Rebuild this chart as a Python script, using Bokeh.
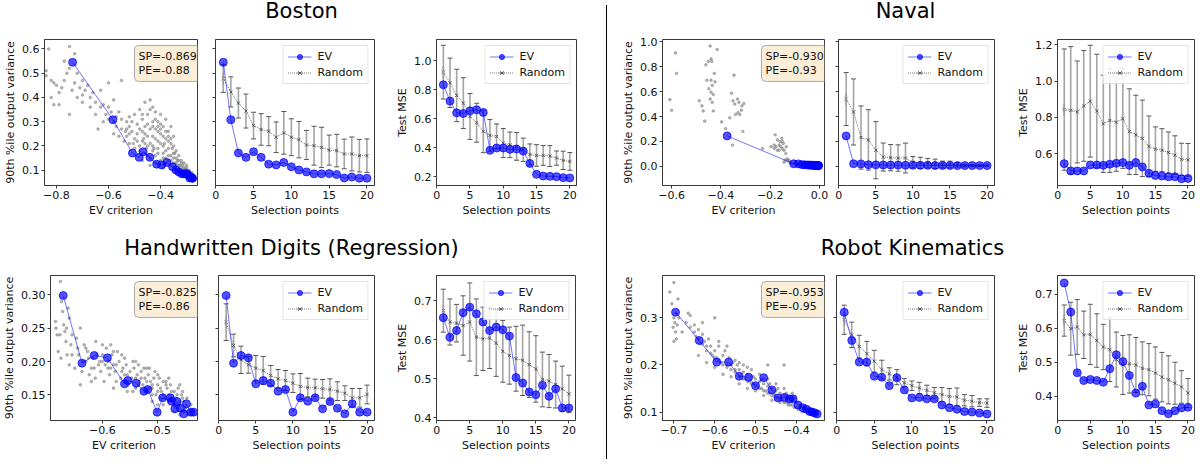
import numpy as np
from bokeh.plotting import figure
from bokeh.models import (Range1d, FixedTicker, CustomJSTickFormatter, ColumnDataSource,
                          Whisker, TeeHead, Legend, LegendItem, Label, Div, CDSView, IndexFilter)
from bokeh.layouts import row, column
from bokeh.embed import file_html
from bokeh.resources import INLINE

# ---------------------------------------------------------------- data
selection_points = list(range(1, 21))

# ---- Boston
boston_cloud_x = [-0.83, -0.75, -0.84, -0.84, -0.81, -0.80, -0.78, -0.82, -0.81, -0.79,
                  -0.77, -0.76, -0.75, -0.73, -0.72, -0.70, -0.69, -0.74, -0.72, -0.75,
                  -0.70, -0.68, -0.66, -0.65, -0.63, -0.62, -0.60, -0.58, -0.56, -0.55,
                  -0.60, -0.62, -0.58, -0.57, -0.55, -0.53, -0.52, -0.50, -0.48, -0.46,
                  -0.44, -0.43, -0.42, -0.41, -0.40, -0.38, -0.37, -0.36, -0.35, -0.52,
                  -0.50, -0.48, -0.47, -0.46, -0.45, -0.44, -0.43, -0.42, -0.41, -0.40,
                  -0.39, -0.38, -0.37, -0.36, -0.35, -0.50, -0.48, -0.46, -0.45, -0.44,
                  -0.43, -0.42, -0.41, -0.40, -0.39, -0.38, -0.37, -0.36, -0.35, -0.34,
                  -0.33, -0.32, -0.31, -0.30, -0.29, -0.28, -0.27, -0.33, -0.31, -0.34,
                  -0.30, -0.65, -0.64, -0.67, -0.70, -0.77, -0.60, -0.54, -0.52, -0.56,
                  -0.47, -0.45, -0.43, -0.41, -0.39, -0.37, -0.35, -0.34, -0.33, -0.32,
                  -0.31, -0.30, -0.29, -0.28, -0.49, -0.51, -0.53, -0.45, -0.40, -0.38,
                  -0.36, -0.34, -0.32, -0.29, -0.27, -0.44, -0.42, -0.39, -0.47, -0.58,
                  -0.49, -0.47, -0.46, -0.44, -0.43, -0.42, -0.41, -0.40, -0.39, -0.38,
                  -0.37, -0.36, -0.355, -0.345, -0.335, -0.325, -0.315, -0.305, -0.295, -0.285,
                  -0.275, -0.265, -0.48, -0.46, -0.45, -0.43, -0.41, -0.39, -0.38, -0.37,
                  -0.36, -0.35, -0.34, -0.33, -0.32, -0.31, -0.55, -0.53, -0.51, -0.49,
                  -0.57, -0.59, -0.61, -0.63, -0.67, -0.71, -0.73, -0.79, -0.82, -0.52,
                  -0.47, -0.44, -0.42, -0.40, -0.385, -0.425, -0.455, -0.465, -0.505, -0.535]
boston_cloud_y = [0.60, 0.61, 0.51, 0.49, 0.46, 0.45, 0.44, 0.40, 0.37, 0.37,
                  0.47, 0.50, 0.52, 0.58, 0.50, 0.47, 0.43, 0.43, 0.40, 0.33,
                  0.38, 0.45, 0.42, 0.38, 0.43, 0.37, 0.36, 0.39, 0.34, 0.47,
                  0.31, 0.30, 0.30, 0.28, 0.31, 0.30, 0.28, 0.33, 0.35, 0.38,
                  0.39, 0.36, 0.31, 0.30, 0.33, 0.31, 0.26, 0.28, 0.24, 0.25,
                  0.23, 0.27, 0.22, 0.25, 0.29, 0.21, 0.24, 0.27, 0.22, 0.25,
                  0.20, 0.23, 0.19, 0.21, 0.17, 0.19, 0.20, 0.17, 0.20, 0.15,
                  0.18, 0.16, 0.19, 0.14, 0.17, 0.15, 0.14, 0.16, 0.13, 0.15,
                  0.12, 0.13, 0.11, 0.10, 0.09, 0.08, 0.07, 0.10, 0.09, 0.12,
                  0.12, 0.33, 0.27, 0.36, 0.41, 0.55, 0.46, 0.22, 0.21, 0.24,
                  0.31, 0.33, 0.28, 0.26, 0.28, 0.22, 0.20, 0.18, 0.16, 0.14,
                  0.13, 0.11, 0.10, 0.09, 0.29, 0.26, 0.27, 0.24, 0.21, 0.18,
                  0.12, 0.10, 0.09, 0.075, 0.06, 0.12, 0.13, 0.11, 0.14, 0.25,
                  0.25, 0.26, 0.28, 0.27, 0.30, 0.23, 0.28, 0.27, 0.24, 0.26,
                  0.24, 0.23, 0.19, 0.17, 0.14, 0.12, 0.12, 0.105, 0.095, 0.085,
                  0.075, 0.065, 0.18, 0.21, 0.16, 0.20, 0.17, 0.15, 0.13, 0.16,
                  0.14, 0.15, 0.13, 0.14, 0.11, 0.10, 0.27, 0.24, 0.30, 0.22,
                  0.32, 0.34, 0.33, 0.36, 0.40, 0.44, 0.46, 0.42, 0.47, 0.32,
                  0.33, 0.35, 0.34, 0.29, 0.21, 0.19, 0.19, 0.23, 0.21, 0.26]
boston_ev_crit = [-0.738, -0.583, -0.508, -0.482, -0.467, -0.441, -0.415, -0.396, -0.376, -0.354,
                  -0.341, -0.330, -0.318, -0.311, -0.300, -0.296, -0.288, -0.283, -0.279, -0.277]
boston_ev_var = [0.545, 0.308, 0.171, 0.153, 0.176, 0.153, 0.125, 0.122, 0.132, 0.114,
                 0.101, 0.093, 0.085, 0.085, 0.086, 0.082, 0.068, 0.072, 0.067, 0.067]
boston_rand_var = [0.478, 0.423, 0.377, 0.344, 0.284, 0.268, 0.261, 0.236, 0.254, 0.236,
                   0.226, 0.204, 0.201, 0.194, 0.183, 0.181, 0.167, 0.167, 0.160, 0.160]
boston_rand_var_err = [0.057, 0.062, 0.062, 0.070, 0.055, 0.065, 0.060, 0.063, 0.088, 0.076,
                       0.075, 0.060, 0.080, 0.083, 0.062, 0.067, 0.061, 0.070, 0.067, 0.069]
boston_ev_mse = [0.833, 0.721, 0.640, 0.636, 0.654, 0.661, 0.643, 0.382, 0.398, 0.398,
                 0.389, 0.391, 0.377, 0.292, 0.217, 0.205, 0.203, 0.201, 0.194, 0.192]
boston_rand_mse = [0.920, 0.847, 0.760, 0.707, 0.615, 0.572, 0.512, 0.485, 0.478, 0.432,
                   0.420, 0.409, 0.386, 0.354, 0.347, 0.347, 0.343, 0.329, 0.313, 0.306]
boston_rand_mse_err = [0.185, 0.170, 0.180, 0.175, 0.158, 0.134, 0.146, 0.109, 0.086, 0.100,
                       0.088, 0.095, 0.080, 0.072, 0.074, 0.068, 0.072, 0.049, 0.063, 0.061]

# ---- Naval
naval_cloud_x = [-0.584, -0.580, -0.607, -0.600, -0.488, -0.477, -0.472, -0.466, -0.461, -0.451,
                 -0.444, -0.440, -0.437, -0.457, -0.440, -0.435, -0.449, -0.440, -0.431, -0.424,
                 -0.444, -0.435, -0.431, -0.427, -0.415, -0.397, -0.381, -0.364, -0.357, -0.351,
                 -0.347, -0.344, -0.341, -0.333, -0.331, -0.327, -0.324, -0.317, -0.315, -0.311,
                 -0.307, -0.353, -0.231, -0.197, -0.184, -0.180, -0.171, -0.164, -0.160, -0.157,
                 -0.153, -0.151, -0.147, -0.144, -0.171, -0.184, -0.137, -0.131, -0.144, -0.124,
                 -0.117, -0.135, -0.177, -0.164, -0.151, -0.120, -0.110, -0.100, -0.090, -0.080,
                 -0.070, -0.060, -0.050, -0.040, -0.030, -0.020, -0.010, -0.130, -0.140]
naval_cloud_y = [0.912, 0.747, 0.536, 0.450, 0.527, 0.486, 0.445, 0.363, 0.816, 0.843,
                 0.967, 0.863, 0.843, 0.692, 0.692, 0.651, 0.624, 0.596, 0.577, 0.679,
                 0.541, 0.514, 0.445, 0.747, 0.939, 0.357, 0.302, 0.390, 0.588, 0.527,
                 0.733, 0.500, 0.417, 0.541, 0.431, 0.514, 0.417, 0.450, 0.486, 0.280,
                 0.505, 0.170, 0.143, 0.157, 0.170, 0.253, 0.212, 0.170, 0.198, 0.157,
                 0.225, 0.143, 0.184, 0.129, 0.129, 0.143, 0.102, 0.060, 0.033, 0.047,
                 0.027, 0.157, 0.157, 0.129, 0.198, 0.030, 0.020, 0.035, 0.015, 0.025,
                 0.010, 0.020, 0.008, 0.012, 0.005, 0.008, 0.003, 0.045, 0.050]
naval_ev_crit = [-0.375, -0.105, -0.085, -0.070, -0.060, -0.050, -0.043, -0.037, -0.032, -0.027,
                 -0.023, -0.020, -0.017, -0.014, -0.012, -0.010, -0.008, -0.006, -0.005, -0.004]
naval_ev_var = [0.244, 0.020, 0.019, 0.012, 0.011, 0.010, 0.009, 0.009, 0.008, 0.008,
                0.007, 0.007, 0.006, 0.006, 0.006, 0.005, 0.005, 0.005, 0.005, 0.005]
naval_rand_var = [0.541, 0.437, 0.231, 0.212, 0.129, 0.074, 0.069, 0.066, 0.066, 0.033,
                  0.027, 0.025, 0.019, 0.014, 0.014, 0.011, 0.005, 0.005, 0.005, 0.005]
naval_rand_var_err = [0.213, 0.266, 0.254, 0.243, 0.230, 0.113, 0.106, 0.106, 0.120, 0.045,
                      0.045, 0.038, 0.038, 0.027, 0.027, 0.018, 0.010, 0.008, 0.006, 0.006]
naval_ev_mse = [0.546, 0.506, 0.506, 0.506, 0.539, 0.539, 0.537, 0.543, 0.548, 0.552,
                0.537, 0.552, 0.528, 0.493, 0.481, 0.478, 0.474, 0.474, 0.463, 0.465]
naval_rand_mse = [0.843, 0.839, 0.830, 0.863, 0.889, 0.835, 0.765, 0.783, 0.774, 0.793,
                  0.722, 0.704, 0.685, 0.641, 0.626, 0.620, 0.607, 0.593, 0.570, 0.567]
naval_rand_mse_err = [0.333, 0.350, 0.280, 0.304, 0.307, 0.312, 0.267, 0.285, 0.270, 0.273,
                      0.235, 0.218, 0.210, 0.167, 0.122, 0.118, 0.113, 0.106, 0.088, 0.090]

# ---- Handwritten digits (regression)
hw_cloud_x = [-0.685, -0.684, -0.682, -0.680, -0.676, -0.674, -0.672, -0.670, -0.668, -0.666,
              -0.664, -0.662, -0.660, -0.657, -0.655, -0.650, -0.647, -0.643, -0.640, -0.637,
              -0.633, -0.630, -0.627, -0.624, -0.620, -0.617, -0.613, -0.610, -0.607, -0.603,
              -0.600, -0.597, -0.593, -0.590, -0.587, -0.583, -0.580, -0.577, -0.573, -0.570,
              -0.567, -0.563, -0.560, -0.557, -0.553, -0.550, -0.547, -0.543, -0.540, -0.537,
              -0.533, -0.530, -0.527, -0.523, -0.520, -0.517, -0.513, -0.510, -0.507, -0.503,
              -0.500, -0.497, -0.493, -0.490, -0.487, -0.483, -0.480, -0.477, -0.473, -0.470,
              -0.467, -0.463, -0.460, -0.457, -0.453, -0.450, -0.447, -0.443, -0.440, -0.585,
              -0.575, -0.565, -0.545, -0.535, -0.525, -0.515, -0.505, -0.495, -0.485, -0.475,
              -0.465, -0.455, -0.580, -0.590, -0.555, -0.510, -0.500, -0.490, -0.470, -0.460,
              -0.612, -0.600, -0.620, -0.640, -0.660, -0.675, -0.630,
              -0.540, -0.530, -0.520, -0.510, -0.500, -0.490, -0.480, -0.470, -0.460, -0.450,
              -0.445, -0.555, -0.565, -0.575, -0.585, -0.595, -0.605, -0.615, -0.625, -0.635,
              -0.645, -0.655, -0.665, -0.677, -0.520, -0.500, -0.480, -0.460, -0.540, -0.560,
              -0.580, -0.600, -0.510, -0.495, -0.475, -0.455, -0.535, -0.545, -0.515, -0.485]
hw_cloud_y = [0.260, 0.250, 0.240, 0.215, 0.320, 0.290, 0.275, 0.255, 0.245, 0.230,
              0.210, 0.280, 0.265, 0.225, 0.240, 0.190, 0.235, 0.210, 0.250, 0.185,
              0.225, 0.200, 0.215, 0.180, 0.190, 0.205, 0.175, 0.210, 0.195, 0.185,
              0.200, 0.170, 0.220, 0.190, 0.180, 0.210, 0.195, 0.185, 0.215, 0.200,
              0.175, 0.190, 0.180, 0.195, 0.165, 0.185, 0.175, 0.190, 0.160, 0.180,
              0.170, 0.185, 0.165, 0.175, 0.155, 0.180, 0.170, 0.160, 0.175, 0.150,
              0.165, 0.175, 0.155, 0.170, 0.145, 0.160, 0.150, 0.165, 0.140, 0.155,
              0.145, 0.160, 0.135, 0.150, 0.140, 0.130, 0.145, 0.125, 0.135, 0.225,
              0.170, 0.210, 0.200, 0.195, 0.190, 0.190, 0.185, 0.160, 0.170, 0.145,
              0.150, 0.155, 0.160, 0.200, 0.155, 0.140, 0.135, 0.135, 0.125, 0.120,
              0.230, 0.225, 0.170, 0.165, 0.195, 0.205, 0.220,
              0.175, 0.175, 0.170, 0.165, 0.155, 0.150, 0.140, 0.135, 0.140, 0.125,
              0.120, 0.180, 0.185, 0.195, 0.190, 0.195, 0.200, 0.190, 0.205, 0.200,
              0.220, 0.210, 0.250, 0.240, 0.190, 0.180, 0.175, 0.165, 0.200, 0.205,
              0.215, 0.210, 0.150, 0.145, 0.155, 0.145, 0.165, 0.155, 0.160, 0.165]
hw_ev_crit = [-0.671, -0.637, -0.615, -0.591, -0.560, -0.554, -0.539, -0.525, -0.518, -0.501,
              -0.491, -0.475, -0.477, -0.469, -0.465, -0.459, -0.453, -0.448, -0.440, -0.435]
hw_ev_var = [0.299, 0.1975, 0.209, 0.2055, 0.1665, 0.1715, 0.1675, 0.1555, 0.158, 0.124,
             0.1455, 0.1405, 0.1455, 0.129, 0.140, 0.130, 0.1215, 0.1365, 0.124, 0.124]
hw_rand_var = [0.259, 0.224, 0.2025, 0.195, 0.190, 0.1865, 0.179, 0.174, 0.1715, 0.1675,
               0.1625, 0.161, 0.1605, 0.159, 0.158, 0.1555, 0.1525, 0.1455, 0.1455, 0.1505]
hw_rand_var_err = [0.0275, 0.017, 0.0205, 0.0125, 0.019, 0.021, 0.015, 0.014, 0.015, 0.014,
                   0.0195, 0.014, 0.013, 0.014, 0.016, 0.014, 0.011, 0.014, 0.014, 0.014]
hw_ev_mse = [0.656, 0.606, 0.623, 0.669, 0.683, 0.666, 0.645, 0.623, 0.632, 0.625,
             0.609, 0.503, 0.489, 0.466, 0.459, 0.483, 0.455, 0.474, 0.425, 0.425]
hw_rand_mse = [0.674, 0.645, 0.642, 0.636, 0.645, 0.606, 0.602, 0.604, 0.591, 0.570,
               0.559, 0.551, 0.547, 0.536, 0.525, 0.498, 0.494, 0.485, 0.474, 0.461]
hw_rand_mse_err = [0.055, 0.059, 0.048, 0.076, 0.100, 0.098, 0.081, 0.078, 0.085, 0.079,
                   0.073, 0.083, 0.090, 0.084, 0.085, 0.070, 0.068, 0.060, 0.058, 0.048]

# ---- Robot kinematics
robot_cloud_x = [-0.710, -0.700, -0.700, -0.698, -0.702, -0.696, -0.694, -0.700, -0.692, -0.690,
                 -0.688, -0.680, -0.665, -0.660, -0.650, -0.645, -0.640, -0.635, -0.630, -0.625,
                 -0.620, -0.615, -0.610, -0.605, -0.600, -0.600, -0.595, -0.590, -0.585, -0.580,
                 -0.575, -0.570, -0.565, -0.560, -0.555, -0.550, -0.545, -0.540, -0.535, -0.530,
                 -0.525, -0.520, -0.515, -0.510, -0.505, -0.500, -0.495, -0.490, -0.485, -0.480,
                 -0.475, -0.470, -0.465, -0.460, -0.455, -0.450, -0.445, -0.440, -0.435, -0.430,
                 -0.425, -0.420, -0.415, -0.410, -0.405, -0.400, -0.395, -0.390, -0.385, -0.380,
                 -0.375, -0.370, -0.365, -0.360, -0.355, -0.350, -0.580, -0.560, -0.540, -0.520,
                 -0.500, -0.480, -0.460, -0.440, -0.420, -0.620, -0.600, -0.590, -0.570, -0.550,
                 -0.530, -0.510, -0.490, -0.470, -0.450, -0.430, -0.410, -0.470, -0.640, -0.660,
                 -0.670, -0.630,
                 -0.650, -0.640, -0.630, -0.620, -0.610, -0.600, -0.590, -0.580, -0.570, -0.560,
                 -0.550, -0.540, -0.530, -0.520, -0.510, -0.500, -0.490, -0.480, -0.470, -0.460,
                 -0.450, -0.440, -0.430, -0.420, -0.410, -0.400, -0.390, -0.380, -0.370, -0.360,
                 -0.505, -0.485, -0.465, -0.445, -0.425, -0.405, -0.540, -0.520, -0.695, -0.705,
                 -0.430]
robot_cloud_y = [0.355, 0.375, 0.300, 0.290, 0.280, 0.270, 0.255, 0.250, 0.285, 0.340,
                 0.300, 0.270, 0.310, 0.305, 0.285, 0.260, 0.275, 0.245, 0.265, 0.250,
                 0.230, 0.255, 0.240, 0.220, 0.300, 0.230, 0.215, 0.240, 0.205, 0.220,
                 0.230, 0.200, 0.215, 0.190, 0.205, 0.185, 0.200, 0.190, 0.175, 0.185,
                 0.170, 0.180, 0.165, 0.175, 0.160, 0.170, 0.155, 0.165, 0.150, 0.160,
                 0.145, 0.155, 0.140, 0.150, 0.135, 0.145, 0.130, 0.140, 0.125, 0.135,
                 0.120, 0.130, 0.115, 0.125, 0.110, 0.120, 0.105, 0.115, 0.100, 0.110,
                 0.100, 0.105, 0.098, 0.100, 0.095, 0.097, 0.180, 0.175, 0.160, 0.150,
                 0.145, 0.135, 0.125, 0.120, 0.115, 0.205, 0.195, 0.250, 0.240, 0.210,
                 0.200, 0.190, 0.180, 0.170, 0.160, 0.150, 0.140, 0.200, 0.220, 0.280,
                 0.290, 0.290,
                 0.270, 0.255, 0.245, 0.240, 0.225, 0.215, 0.210, 0.200, 0.195, 0.200,
                 0.190, 0.175, 0.170, 0.165, 0.160, 0.155, 0.150, 0.145, 0.140, 0.135,
                 0.130, 0.125, 0.120, 0.120, 0.115, 0.110, 0.110, 0.105, 0.100, 0.097,
                 0.175, 0.170, 0.160, 0.150, 0.140, 0.130, 0.205, 0.195, 0.310, 0.330,
                 0.200]
robot_ev_crit = [-0.696, -0.638, -0.595, -0.566, -0.540, -0.517, -0.500, -0.480, -0.460, -0.445,
                 -0.429, -0.417, -0.408, -0.396, -0.384, -0.375, -0.367, -0.361, -0.355, -0.349]
robot_ev_var = [0.312, 0.252, 0.206, 0.206, 0.176, 0.174, 0.156, 0.173, 0.147, 0.130,
                0.131, 0.128, 0.128, 0.115, 0.109, 0.106, 0.101, 0.100, 0.098, 0.096]
robot_rand_var = [0.296, 0.264, 0.239, 0.224, 0.208, 0.190, 0.181, 0.174, 0.162, 0.156,
                  0.151, 0.146, 0.141, 0.137, 0.133, 0.132, 0.125, 0.123, 0.120, 0.119]
robot_rand_var_err = [0.031, 0.027, 0.024, 0.026, 0.023, 0.020, 0.013, 0.016, 0.009, 0.010,
                      0.012, 0.011, 0.011, 0.015, 0.017, 0.019, 0.012, 0.012, 0.008, 0.009]
robot_ev_mse = [0.734, 0.648, 0.469, 0.446, 0.449, 0.446, 0.441, 0.481, 0.522, 0.502,
                0.461, 0.409, 0.429, 0.374, 0.377, 0.357, 0.348, 0.357, 0.365, 0.367]
robot_rand_mse = [0.623, 0.599, 0.604, 0.581, 0.582, 0.564, 0.545, 0.537, 0.508, 0.492,
                  0.495, 0.492, 0.482, 0.478, 0.468, 0.456, 0.448, 0.438, 0.427, 0.409]
robot_rand_mse_err = [0.046, 0.078, 0.081, 0.070, 0.089, 0.079, 0.067, 0.094, 0.081, 0.087,
                      0.086, 0.081, 0.078, 0.077, 0.077, 0.073, 0.071, 0.062, 0.048, 0.043]

titles = ["Boston", "Naval", "Handwritten Digits (Regression)", "Robot Kinematics"]
corr_texts = ["SP=-0.869\nPE=-0.88", "SP=-0.930\nPE=-0.93",
              "SP=-0.825\nPE=-0.86", "SP=-0.953\nPE=-0.95"]
sel_ticks = [0, 5, 10, 15, 20]

# ---------------------------------------------------------------- styling helpers
FONT = "DejaVu Sans"
AXC = "#3a3a3a"
BLUE = "#0000ff"


def fmt(nd):
    return CustomJSTickFormatter(code="return tick.toFixed(%d).replace('-', '\\u2212');" % nd)


def base_panel(w, h, bl, br, bt, bb, xr, yr, xt, yt, xnd, ynd, xlabel, ylabel, ylabels=True):
    p = figure(width=w, height=h, x_range=Range1d(*xr), y_range=Range1d(*yr),
               output_backend="svg", toolbar_location=None,
               min_border_left=bl, min_border_right=br, min_border_top=bt, min_border_bottom=bb)
    p.grid.visible = False
    p.outline_line_color = AXC
    p.outline_line_width = 1
    p.axis.major_tick_out = 3
    p.axis.major_tick_in = 0
    p.axis.minor_tick_out = 0
    p.axis.minor_tick_in = 0
    p.axis.axis_line_color = AXC
    p.axis.major_tick_line_color = AXC
    p.axis.major_label_text_font = FONT
    p.axis.major_label_text_font_size = "11px"
    p.axis.major_label_text_color = "#111111"
    p.axis.major_label_standoff = 2
    p.axis.axis_label_text_font = FONT
    p.axis.axis_label_text_font_size = "11px"
    p.axis.axis_label_text_font_style = "normal"
    p.axis.axis_label_text_color = "#111111"
    p.axis.axis_label_standoff = 2
    p.xaxis.ticker = FixedTicker(ticks=xt)
    p.yaxis.ticker = FixedTicker(ticks=yt)
    p.xaxis.formatter = fmt(xnd)
    p.yaxis.formatter = fmt(ynd) if ylabels else CustomJSTickFormatter(code="return '';")
    p.xaxis.axis_label = xlabel
    if ylabel:
        p.yaxis.axis_label = ylabel
    return p


def scatter_panel(geo, xr, yr, xt, yt, xnd, ynd, cx, cy, ex, ey, text):
    w, h, bl, br, bt, bb = geo
    p = base_panel(w, h, bl, br, bt, bb, xr, yr, xt, yt, xnd, ynd,
                   "EV criterion", "90th %ile output variance")
    p.scatter(x=cx, y=cy, size=2.6, marker="circle", color="gray", alpha=0.55)
    p.line(x=ex, y=ey, color=BLUE, alpha=0.55, line_width=1)
    p.scatter(x=ex, y=ey, size=8, marker="circle", color=BLUE, alpha=0.68)
    lab = Label(x=xr[1], y=yr[1], x_offset=-63, y_offset=-6, text=text,
                text_align="left", text_baseline="top", text_font=FONT, text_font_size="11px",
                text_color="#111111", text_line_height=1.15,
                background_fill_color="wheat", background_fill_alpha=0.5,
                border_line_color="#999999", border_line_alpha=0.8,
                padding=4, border_radius=4)
    p.add_layout(lab)
    return p


def sel_panel(geo, yr, yt, ynd, ylabel, ylabels, ev, rmean, rerr):
    w, h, bl, br, bt, bb = geo
    p = base_panel(w, h, bl, br, bt, bb, (-0.03, 21.0), yr, sel_ticks, yt, 0, ynd,
                   "Selection points", ylabel, ylabels)
    m = np.array(rmean)
    e = np.array(rerr)
    src = ColumnDataSource(dict(x=selection_points, m=m, lo=m - e, hi=m + e))
    wk = Whisker(base="x", upper="hi", lower="lo", source=src,
                 line_color="#9a9a9a", line_width=1.6, line_alpha=0.9,
                 upper_head=TeeHead(size=5, line_color="#555555", line_width=1),
                 lower_head=TeeHead(size=5, line_color="#555555", line_width=1))
    p.add_layout(wk)
    rl = p.line(x="x", y="m", source=src, line_dash="1 1", color="#777777", line_width=1)
    rs = p.scatter(x="x", y="m", source=src, marker="x", size=4.5, color="#444444", alpha=0.8)
    # vertical error-bar glyph for the legend (drawn on the first point only, hidden in its bar)
    rd = p.scatter(x="x", y="m", source=src, view=CDSView(filter=IndexFilter(indices=[0])),
                   marker="dash", angle=np.pi / 2, size=12, line_color="#9a9a9a", line_width=1.6)
    el = p.line(x=selection_points, y=ev, color=BLUE, alpha=0.55, line_width=1)
    es = p.scatter(x=selection_points, y=ev, size=8, marker="circle", color=BLUE, alpha=0.68)
    legend = Legend(items=[LegendItem(label="EV", renderers=[el, es]),
                           LegendItem(label="Random", renderers=[rd, rl, rs])],
                    location="top_right", label_text_font=FONT, label_text_font_size="11px",
                    label_text_color="#111111",
                    glyph_width=24, glyph_height=13, label_height=13, label_standoff=6,
                    spacing=3, padding=4, margin=6, border_line_color="#cccccc",
                    border_line_width=1, background_fill_alpha=0.85)
    p.add_layout(legend)
    return p


def title_fig(w, h, cx, cy, text):
    p = figure(width=w, height=h, x_range=Range1d(0, w), y_range=Range1d(0, h),
               output_backend="svg", toolbar_location=None,
               min_border_left=0, min_border_right=0, min_border_top=0, min_border_bottom=0)
    p.axis.visible = False
    p.grid.visible = False
    p.outline_line_color = None
    p.add_layout(Label(x=cx, y=cy, text=text, text_align="center", text_baseline="middle",
                       text_font=FONT, text_font_size="21px", text_color="#000000"))
    return p


# ---------------------------------------------------------------- panels
TOP_H, BOT_H = 195, 189
# geometry: width, height, border left, right, top, bottom
p1 = scatter_panel((199, TOP_H, 44, 2, 9, 40), (-0.846, -0.258), (0.037, 0.639),
                   [-0.8, -0.6, -0.4], [0.1, 0.2, 0.3, 0.4, 0.5, 0.6], 1, 1,
                   boston_cloud_x, boston_cloud_y, boston_ev_crit, boston_ev_var, corr_texts[0])
p2 = sel_panel((189, TOP_H, 16, 14, 9, 40), (0.037, 0.639), [0.1, 0.2, 0.3, 0.4, 0.5, 0.6], 1,
               None, False, boston_ev_var, boston_rand_var, boston_rand_var_err)
p3 = sel_panel((213, TOP_H, 48, 25, 9, 40), (0.14, 1.145), [0.2, 0.4, 0.6, 0.8, 1.0], 1,
               "Test MSE", True, boston_ev_mse, boston_rand_mse, boston_rand_mse_err)

p4 = scatter_panel((220, TOP_H, 50, 8, 9, 40), (-0.637, 0.02), (-0.155, 1.02),
                   [-0.6, -0.4, -0.2, 0.0], [0.0, 0.2, 0.4, 0.6, 0.8, 1.0], 1, 1,
                   naval_cloud_x, naval_cloud_y, naval_ev_crit, naval_ev_var, corr_texts[1])
p5 = sel_panel((176, TOP_H, 6, 14, 9, 40), (-0.155, 1.02), [0.0, 0.2, 0.4, 0.6, 0.8, 1.0], 1,
               None, False, naval_ev_var, naval_rand_var, naval_rand_var_err)
p6 = sel_panel((192, TOP_H, 49, 6, 9, 40), (0.426, 1.228), [0.6, 0.8, 1.0, 1.2], 1,
               "Test MSE", True, naval_ev_mse, naval_rand_mse, naval_rand_mse_err)

p7 = scatter_panel((199, BOT_H, 49, 2, 10, 34), (-0.694, -0.428), (0.1115, 0.329),
                   [-0.6, -0.5], [0.15, 0.20, 0.25, 0.30], 1, 2,
                   hw_cloud_x, hw_cloud_y, hw_ev_crit, hw_ev_var, corr_texts[2])
p8 = sel_panel((189, BOT_H, 19, 14, 10, 34), (0.1115, 0.329), [0.15, 0.20, 0.25, 0.30], 2,
               None, False, hw_ev_var, hw_rand_var, hw_rand_var_err)
p9 = sel_panel((213, BOT_H, 48, 26, 10, 34), (0.393, 0.764), [0.4, 0.5, 0.6, 0.7], 1,
               "Test MSE", True, hw_ev_mse, hw_rand_mse, hw_rand_mse_err)

p10 = scatter_panel((220, BOT_H, 50, 8, 10, 34), (-0.728, -0.331), (0.082, 0.39),
                    [-0.7, -0.6, -0.5, -0.4], [0.1, 0.2, 0.3], 1, 1,
                    robot_cloud_x, robot_cloud_y, robot_ev_crit, robot_ev_var, corr_texts[3])
p11 = sel_panel((176, BOT_H, 4, 14, 10, 34), (0.082, 0.39), [0.1, 0.2, 0.3], 1,
                None, False, robot_ev_var, robot_rand_var, robot_rand_var_err)
p12 = sel_panel((192, BOT_H, 49, 6, 10, 34), (0.328, 0.756), [0.4, 0.5, 0.6, 0.7], 1,
                "Test MSE", True, robot_ev_mse, robot_rand_mse, robot_rand_mse_err)

LEFT_W, RIGHT_W = 601, 588
left = column(title_fig(LEFT_W, 30, 301, 20, titles[0]),
              row(p1, p2, p3),
              title_fig(LEFT_W, 40, 291, 18, titles[2]),
              row(p7, p8, p9))
right = column(title_fig(RIGHT_W, 30, 293, 20, titles[1]),
               row(p4, p5, p6),
               title_fig(RIGHT_W, 40, 300, 18, titles[3]),
               row(p10, p11, p12))
divider = Div(text="", width=1, height=TOP_H + BOT_H + 70,
              styles={"background-color": "#000000"})
layout = row(left, divider, right)

open("out.html", "w").write(file_html(layout, INLINE))
